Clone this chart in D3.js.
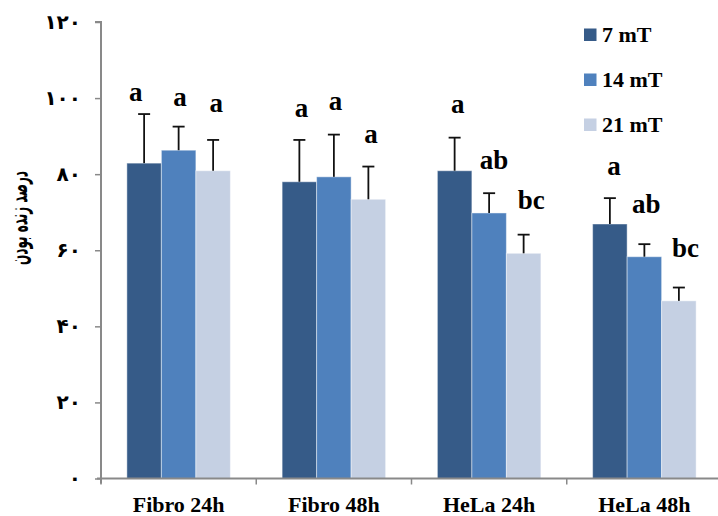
<!DOCTYPE html>
<html><head><meta charset="utf-8">
<script src="https://cdn.jsdelivr.net/npm/d3@7"></script>
<style>body{margin:0;background:#fff} svg{display:block}</style>
</head><body><svg id="c" width="718" height="516"></svg>
<script>
// ---- data ----
const categories = ["Fibro 24h", "Fibro 48h", "HeLa 24h", "HeLa 48h"];
const series = ["7 mT", "14 mT", "21 mT"];
const values7  = [82.9, 78.0, 80.9, 66.9];
const values14 = [86.3, 79.3, 69.8, 58.3];
const values21 = [80.9, 73.4, 59.2, 46.7];
const err7  = [12.9, 11.0, 8.7, 6.8];
const err14 = [6.2, 11.1, 5.2, 3.3];
const err21 = [8.1, 8.6, 4.9, 3.5];
const letters7  = ["a", "a", "a", "a"];
const letters14 = ["a", "a", "ab", "ab"];
const letters21 = ["a", "a", "bc", "bc"];
// height (in % units) at which each significance letter sits
const letterLevel7  = [99.3, 95.0, 96.2, 79.8];
const letterLevel14 = [97.9, 96.9, 81.3, 69.7];
const letterLevel21 = [96.3, 88.3, 70.8, 58.3];
const yTicks = [0, 20, 40, 60, 80, 100, 120];
const yTitle = "درصد زنده بودن";

// ---- layout / style ----
const colors = ["#365B88", "#4F81BD", "#C5D0E3"];
const letterDx = [[-8.5, 1.3, 3], [2, 1.5, 2.7], [3.2, 5, 7.5], [4.2, 2, 6.5]];
const W = 718, H = 516;
const x0 = 101, x1 = 722, yTop = 22, yBot = 478.5;

const svg = d3.select("#c");
const values = [values7, values14, values21];
const errs = [err7, err14, err21];
const letters = [letters7, letters14, letters21];
const levels = [letterLevel7, letterLevel14, letterLevel21];

const x = d3.scaleBand().domain(categories).range([x0, x1]).paddingInner(0).paddingOuter(0);
const bw = x.bandwidth();
const xs = d3.scaleBand().domain(series).range([bw / 6, bw * 5 / 6]);
const y = d3.scaleLinear().domain([0, 120]).range([yBot, yTop]);

const rows = [];
categories.forEach((c, i) => series.forEach((s, j) => rows.push({
  c, s, i, j, v: values[j][i], e: errs[j][i], l: letters[j][i], lv: levels[j][i]
})));

const persian = n => String(n).replace(/\d/g, d => "۰۱۲۳۴۵۶۷۸۹"[d]);

// Y axis
const yAxis = d3.axisLeft(y).tickValues(yTicks).tickSize(6).tickFormat(persian);
const gy = svg.append("g").attr("transform", `translate(${x0},0)`).call(yAxis);
gy.select(".domain").attr("stroke", "#898989").attr("stroke-width", 2).attr("d", `M-6,${yTop}H0V${yBot + 5}`);
gy.selectAll(".tick line").attr("stroke", "#898989").attr("stroke-width", 1.5);
gy.selectAll(".tick text").attr("x", -20).attr("dy", "0.3em")
  .attr("font-family", "DejaVu Sans").attr("font-weight", "bold").attr("font-size", 20).attr("fill", "#000");

// bars
const g = svg.append("g");
g.selectAll("rect.bar").data(rows).join("rect").attr("class", "bar")
  .attr("x", d => x(d.c) + xs(d.s))
  .attr("width", xs.bandwidth())
  .attr("y", d => y(d.v))
  .attr("height", d => y(0) - y(d.v))
  .attr("fill", d => colors[d.j])
  .attr("stroke", "rgba(255,255,255,0.45)").attr("stroke-width", 1);

// error bars
const cx = d => x(d.c) + xs(d.s) + xs.bandwidth() / 2;
g.selectAll("line.err").data(rows).join("line").attr("class", "err")
  .attr("x1", cx).attr("x2", cx)
  .attr("y1", d => y(d.v)).attr("y2", d => y(d.v + d.e))
  .attr("stroke", "#111").attr("stroke-width", 1.8);
g.selectAll("line.cap").data(rows).join("line").attr("class", "cap")
  .attr("x1", d => cx(d) - 6).attr("x2", d => cx(d) + 6)
  .attr("y1", d => y(d.v + d.e)).attr("y2", d => y(d.v + d.e))
  .attr("stroke", "#111").attr("stroke-width", 1.8);

// letters
g.selectAll("text.sig").data(rows).join("text").attr("class", "sig")
  .attr("x", d => cx(d) + letterDx[d.i][d.j])
  .attr("y", d => y(d.lv))
  .attr("text-anchor", "middle")
  .attr("font-family", "Liberation Serif").attr("font-weight", "bold").attr("font-size", 27)
  .attr("fill", "#000").text(d => d.l);

// X axis
const xAxis = d3.axisBottom(x).tickSize(0).tickFormat(d => d);
const gx = svg.append("g").attr("transform", `translate(0,${yBot})`).call(xAxis);
gx.select(".domain").attr("stroke", "#898989").attr("stroke-width", 2).attr("d", `M${x0 - 4},0H${W}`);
gx.selectAll(".tick text").attr("y", 33).attr("dy", 0)
  .attr("font-family", "Liberation Serif").attr("font-weight", "bold").attr("font-size", 22).attr("fill", "#000");
gx.selectAll("line.bnd").data(categories).join("line").attr("class", "bnd")
  .attr("x1", d => x(d)).attr("x2", d => x(d)).attr("y1", 0).attr("y2", 6)
  .attr("stroke", "#898989").attr("stroke-width", 1.5);

// Y title
svg.append("text")
  .attr("transform", `translate(27,218) rotate(-90)`)
  .attr("text-anchor", "middle")
  .attr("font-family", "DejaVu Sans").attr("font-weight", "bold").attr("font-size", 25)
  .attr("textLength", 94).attr("lengthAdjust", "spacingAndGlyphs")
  .attr("fill", "#000").text(yTitle);

// Legend
const lg = svg.append("g").selectAll("g").data(series).join("g")
  .attr("transform", (d, i) => `translate(584,${28.5 + i * 45})`);
lg.append("rect").attr("width", 12.5).attr("height", 12.5).attr("fill", (d, i) => colors[i]);
lg.append("text").attr("x", 18).attr("y", 13)
  .attr("font-family", "Liberation Serif").attr("font-weight", "bold").attr("font-size", 22)
  .attr("fill", "#000").text(d => d);
</script>
</body></html>
